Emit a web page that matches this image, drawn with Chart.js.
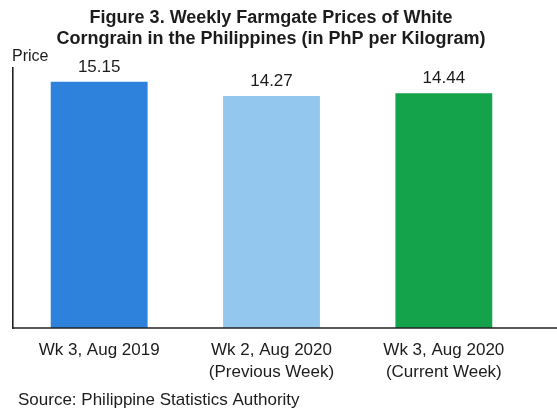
<!DOCTYPE html>
<html>
<head>
<meta charset="utf-8">
<script src="https://cdn.jsdelivr.net/npm/chart.js@4/dist/chart.umd.min.js"></script>
<style>
html,body{margin:0;padding:0;background:#fff;}
#wrap{width:557px;height:412px;position:relative;}
</style>
</head>
<body>
<div id="wrap"><canvas id="c" width="557" height="412"></canvas></div>
<script>
const categories = [
  ["Wk 3, Aug 2019"],
  ["Wk 2, Aug 2020", "(Previous Week)"],
  ["Wk 3, Aug 2020", "(Current Week)"]
];
const prices = [15.15, 14.27, 14.44];
const barColors = ["#2e82dc", "#93c7ed", "#14a24b"];
const titleLines = ["Figure 3. Weekly Farmgate Prices of White", "Corngrain in the Philippines (in PhP per Kilogram)"];
const yAxisLabel = "Price";
const sourceText = "Source: Philippine Statistics Authority";

const FONT = "'Liberation Sans', Arial, sans-serif";
const TEXT = "#1c1c1c";

const extras = {
  id: 'extras',
  afterDatasetsDraw(chart) {
    const ctx = chart.ctx;
    const area = chart.chartArea;
    ctx.save();
    ctx.strokeStyle = "#222";
    ctx.lineWidth = 1.6;
    ctx.beginPath();
    ctx.moveTo(area.left, area.bottom);
    ctx.lineTo(chart.width, area.bottom);
    ctx.stroke();
    ctx.fillStyle = TEXT;
    ctx.font = "17px " + FONT;
    ctx.textAlign = "center";
    ctx.textBaseline = "alphabetic";
    const meta = chart.getDatasetMeta(0);
    meta.data.forEach((bar, i) => {
      ctx.fillText(prices[i].toFixed(2), bar.x, bar.y - 10);
    });
    ctx.textAlign = "left";
    ctx.font = "16px " + FONT;
    ctx.fillText(yAxisLabel, 12, 61);
    ctx.font = "17px " + FONT;
    ctx.fillText(sourceText, 18, 405);
    ctx.restore();
  }
};

new Chart(document.getElementById('c'), {
  type: 'bar',
  data: {
    labels: categories,
    datasets: [{
      data: prices,
      backgroundColor: barColors,
      borderWidth: 0,
      barPercentage: 0.562,
      categoryPercentage: 1
    }]
  },
  options: {
    responsive: false,
    animation: false,
    devicePixelRatio: 1,
    layout: { padding: { left: 0, right: 15, top: 0, bottom: 0 } },
    plugins: {
      legend: { display: false },
      tooltip: { enabled: false },
      title: {
        display: true,
        text: titleLines,
        color: TEXT,
        font: { family: FONT, size: 18, weight: 'bold', lineHeight: '21px' },
        padding: { top: 8, bottom: 18 }
      }
    },
    scales: {
      x: {
        grid: { display: false, drawTicks: false },
        border: { display: false },
        ticks: {
          color: TEXT,
          padding: 11,
          maxRotation: 0,
          autoSkip: false,
          font: { family: FONT, size: 17, lineHeight: '22px' }
        },
        afterFit(scale) { scale.height = 84; }
      },
      y: {
        min: 0,
        max: 16,
        grid: { display: false, drawTicks: false },
        border: { display: true, color: "#222", width: 1.6 },
        ticks: { display: false },
        afterFit(scale) { scale.width = 13; }
      },
      yRight: {
        position: 'right',
        min: 0,
        max: 16,
        grid: { display: false, drawTicks: false },
        border: { display: false },
        ticks: { display: false },
        afterFit(scale) { scale.width = 12; }
      }
    }
  },
  plugins: [extras]
});
</script>
</body>
</html>
